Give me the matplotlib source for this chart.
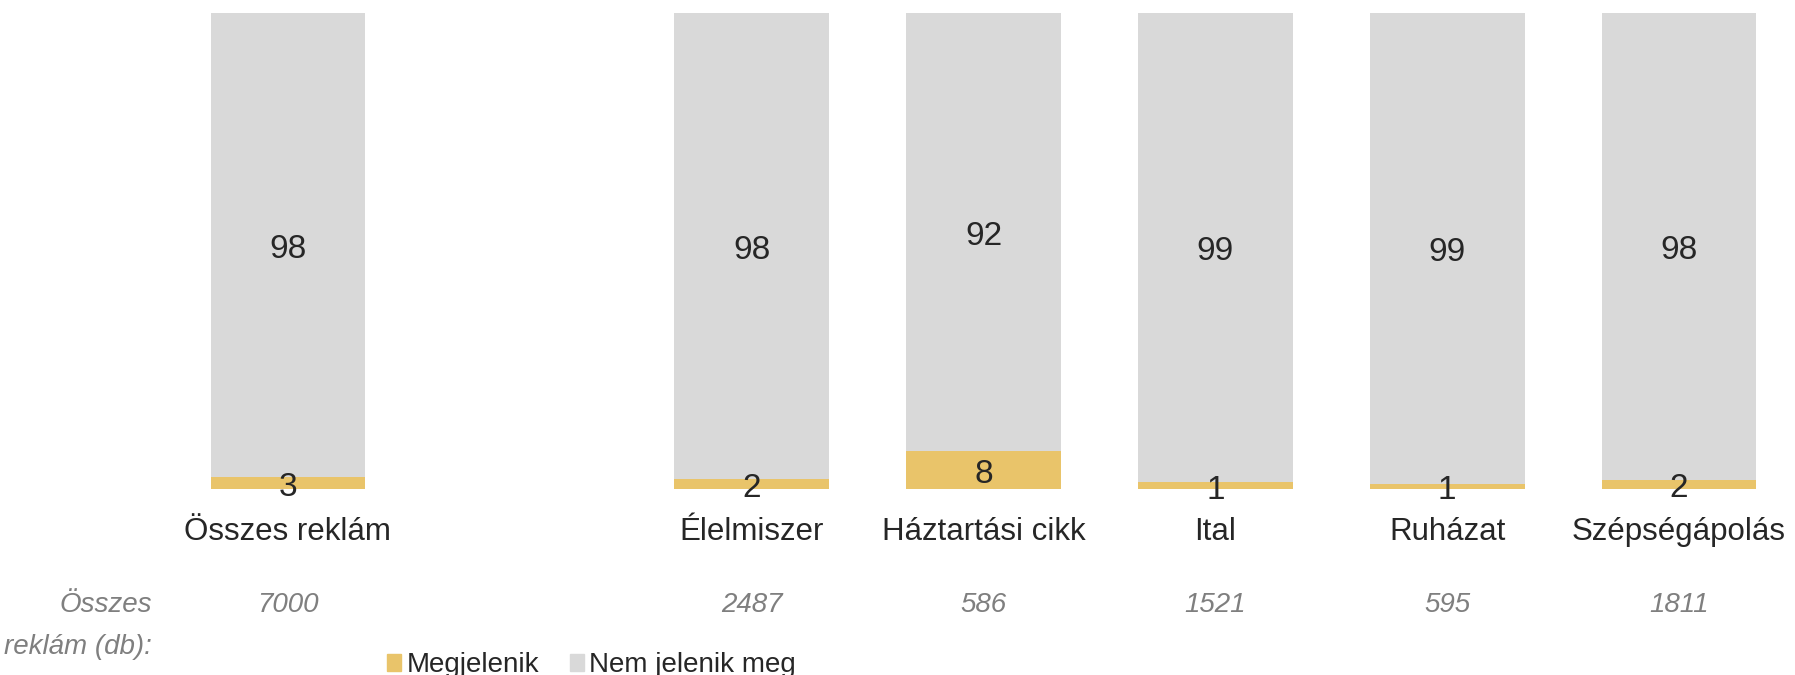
import matplotlib
matplotlib.use("Agg")
import matplotlib.pyplot as plt
from matplotlib.patches import Patch
from matplotlib.transforms import blended_transform_factory, offset_copy

plt.rcParams['font.family'] = ['Liberation Sans', 'DejaVu Sans']

categories = ["Összes reklám", "Élelmiszer", "Háztartási cikk", "Ital", "Ruházat", "Szépségápolás"]
positions = [0, 2, 3, 4, 5, 6]
megjelenik = [2.5, 2.2, 8.0, 1.4, 1.1, 1.9]
nem_jelenik = [97.5, 97.8, 92.0, 98.6, 98.9, 98.1]
totals = ["7000", "2487", "586", "1521", "595", "1811"]
series_names = ["Megjelenik", "Nem jelenik meg"]

c_yellow = "#E9C46A"
c_gray = "#D9D9D9"
c_text = "#262626"
c_italic = "#7F7F7F"

def rnd(v):
    return str(int(v + 0.5))

fig = plt.figure(figsize=(17.95, 6.75), dpi=100)
ax = fig.add_axes([172 / 1795, 186 / 675, 1 - 172 / 1795, (489 - 12.6) / 675])

w = 0.667
ax.bar(positions, megjelenik, width=w, color=c_yellow, label=series_names[0])
ax.bar(positions, nem_jelenik, width=w, bottom=megjelenik, color=c_gray, label=series_names[1])

lbl_trans = offset_copy(ax.transData, fig=fig, x=0, y=-4.5, units="dots")
for x, m, n in zip(positions, megjelenik, nem_jelenik):
    ax.text(x, m / 2, rnd(m), ha="center", va="center", fontsize=24, color=c_text,
            clip_on=False, transform=lbl_trans)
    ax.text(x, m + n / 2, rnd(n), ha="center", va="center", fontsize=24, color=c_text,
            transform=lbl_trans)

ax.set_xlim(-0.5, 6.5)
ax.set_ylim(0, 100)
ax.set_xticks(positions)
ax.set_xticklabels(categories, fontsize=22.5, color=c_text)
ax.tick_params(axis="x", length=0, pad=20)
ax.set_yticks([])
for s in ax.spines.values():
    s.set_visible(False)

trans = blended_transform_factory(ax.transData, ax.transAxes)
for x, t in zip(positions, totals):
    ax.text(x, -0.244, t, transform=trans, ha="center", va="center",
            fontsize=20, style="italic", color=c_italic)

fig.text(152 / 1795, (675 - 626) / 675, "Összes\nreklám (db):", ha="right", va="center",
         fontsize=20, style="italic", color=c_italic, linespacing=1.8)

handles = [Patch(color=c_yellow), Patch(color=c_gray)]
fig.legend(handles, series_names, loc="center left", bbox_to_anchor=(376 / 1795, (675 - 665) / 675),
           ncol=2, frameon=False, fontsize=20, handlelength=0.5, handleheight=0.55,
           handletextpad=0.2, columnspacing=1.1, labelcolor=c_text, borderaxespad=0)

fig.savefig("out.png", dpi=100)
